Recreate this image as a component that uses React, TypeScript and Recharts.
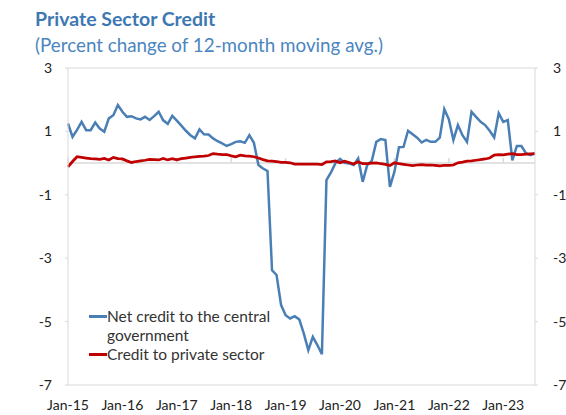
import { LineChart, Line, XAxis, YAxis, ReferenceLine } from "recharts";

const years = ["15", "16", "17", "18", "19", "20", "21", "22", "23"];
const monthNames = ["Jan", "Feb", "Mar", "Apr", "May", "Jun", "Jul", "Aug", "Sep", "Oct", "Nov", "Dec"];

// Jan-15 .. Aug-23, monthly
const months: string[] = years.flatMap((y) => monthNames.map((m) => `${m}-${y}`)).slice(0, 104);

const netCreditGov = [
  1.25, 0.83, 1.05, 1.3, 1.04, 1.04, 1.28, 1.09, 0.99, 1.41, 1.51, 1.83,
  1.62, 1.46, 1.48, 1.41, 1.38, 1.46, 1.36, 1.48, 1.62, 1.35, 1.24, 1.49,
  1.34, 1.18, 1.02, 0.88, 0.78, 1.06, 0.91, 0.9, 0.78, 0.69, 0.62, 0.54,
  0.6, 0.67, 0.69, 0.64, 0.88, 0.64, -0.06, -0.17, -0.25, -3.38, -3.53, -4.48,
  -4.8, -4.9, -4.83, -4.93, -5.37, -5.9, -5.48, -5.74, -6.03, -0.54, -0.29, 0.0,
  0.13, 0.01, -0.01, -0.06, 0.15, -0.59, -0.06, 0.07, 0.67, 0.76, 0.73, -0.75,
  -0.27, 0.5, 0.51, 1.02, 0.91, 0.8, 0.65, 0.73, 0.67, 0.67, 0.8, 1.7,
  1.38, 0.73, 1.2, 0.88, 0.67, 1.62, 1.46, 1.3, 1.2, 1.02, 0.81, 1.57,
  1.3, 1.36, 0.09, 0.54, 0.54, 0.31, 0.25, 0.31,
];

const creditPrivate = [
  -0.12, 0.05, 0.2, 0.18, 0.16, 0.14, 0.13, 0.12, 0.15, 0.1, 0.18, 0.14,
  0.13, 0.07, 0.02, 0.05, 0.07, 0.09, 0.12, 0.11, 0.1, 0.15, 0.1, 0.14,
  0.1, 0.14, 0.16, 0.18, 0.2, 0.21, 0.22, 0.24, 0.3, 0.28, 0.27, 0.27,
  0.23, 0.2, 0.25, 0.23, 0.22, 0.2, 0.16, 0.11, 0.07, 0.06, 0.05, 0.02,
  0.02, 0.01, -0.03, -0.03, -0.03, -0.03, -0.03, -0.03, -0.05, 0.04, 0.05, 0.07,
  0.01, 0.06, 0.02, -0.03, 0.04, -0.02, -0.02, 0.0, 0.01, -0.02, -0.04, -0.08,
  0.01, -0.02, -0.04, -0.06, -0.08, -0.06, -0.05, -0.06, -0.06, -0.07, -0.09, -0.07,
  -0.07, -0.06, 0.01, 0.03, 0.06, 0.07, 0.09, 0.11, 0.13, 0.16, 0.25, 0.27,
  0.26, 0.28, 0.3, 0.27, 0.27, 0.28, 0.29, 0.3,
];

const yTicks = [3, 1, -1, -3, -5, -7];
const xTicks = years.map((y) => `Jan-${y}`);

const series = [
  { key: "gov", name: "Net credit to the central government", color: "#4A7FB5" },
  { key: "priv", name: "Credit to private sector", color: "#C00000" },
];

const data = months.map((m, i) => ({ month: m, gov: netCreditGov[i], priv: creditPrivate[i] }));

const FONT = "Lato, 'Liberation Sans', sans-serif";
const GRID = "#D9D9D9";

export default function App() {
  return (
    <div style={{ position: "absolute", left: 0, top: 0, width: 566, height: 415, background: "#fff", fontFamily: FONT }}>
      <div style={{ position: "absolute", left: 35, top: 7, fontSize: 19.5, fontWeight: 700, color: "#3E78B2" }}>
        Private Sector Credit
      </div>
      <div style={{ position: "absolute", left: 35, top: 33, fontSize: 18.8, color: "#4B86C0" }}>
        (Percent change of 12-month moving avg.)
      </div>
      <LineChart width={566} height={415} data={data} margin={{ top: 68, right: 0, bottom: 0, left: 38 }}>
        <XAxis
          dataKey="month"
          ticks={xTicks}
          interval={0}
          tickLine={false}
          tickSize={0}
          tickMargin={15}
          height={30}
          axisLine={{ stroke: GRID }}
          tick={{ fill: "#222", fontSize: 14, fontFamily: FONT }}
        />
        <YAxis
          yAxisId="left"
          domain={[-7, 3]}
          ticks={yTicks}
          width={30}
          tickSize={3}
          tickMargin={13}
          axisLine={{ stroke: GRID }}
          tickLine={{ stroke: GRID }}
          tick={{ fill: "#222", fontSize: 14, fontFamily: FONT }}
        />
        <YAxis
          yAxisId="right"
          orientation="right"
          domain={[-7, 3]}
          ticks={yTicks}
          width={31}
          tickSize={3}
          tickMargin={15}
          axisLine={{ stroke: GRID }}
          tickLine={{ stroke: GRID }}
          tick={{ fill: "#222", fontSize: 14, fontFamily: FONT, textAnchor: "start" }}
        />
        <ReferenceLine yAxisId="left" y={3} stroke={GRID} />
        <ReferenceLine yAxisId="left" y={0} stroke={GRID} strokeWidth={1.5} />
        {xTicks.map((t) => (
          <ReferenceLine
            key={t}
            yAxisId="left"
            segment={[{ x: t, y: 0 }, { x: t, y: 0.16 }]}
            stroke={GRID}
            strokeWidth={1.5}
          />
        ))}
        <Line
          yAxisId="left"
          dataKey="gov"
          name={series[0].name}
          stroke={series[0].color}
          strokeWidth={2.5}
          dot={false}
          isAnimationActive={false}
        />
        <Line
          yAxisId="right"
          dataKey="priv"
          name={series[1].name}
          stroke={series[1].color}
          strokeWidth={2.75}
          dot={false}
          isAnimationActive={false}
        />
      </LineChart>
      <div style={{ position: "absolute", left: 89, top: 307, fontSize: 15.5, lineHeight: "19px", color: "#333" }}>
        {series.map((s) => (
          <div key={s.key} style={{ display: "flex", alignItems: "flex-start" }}>
            <span style={{ display: "inline-block", width: 18, height: 3, background: s.color, marginTop: 8, flexShrink: 0 }} />
            <span style={{ width: 170 }}>{s.name}</span>
          </div>
        ))}
      </div>
    </div>
  );
}
